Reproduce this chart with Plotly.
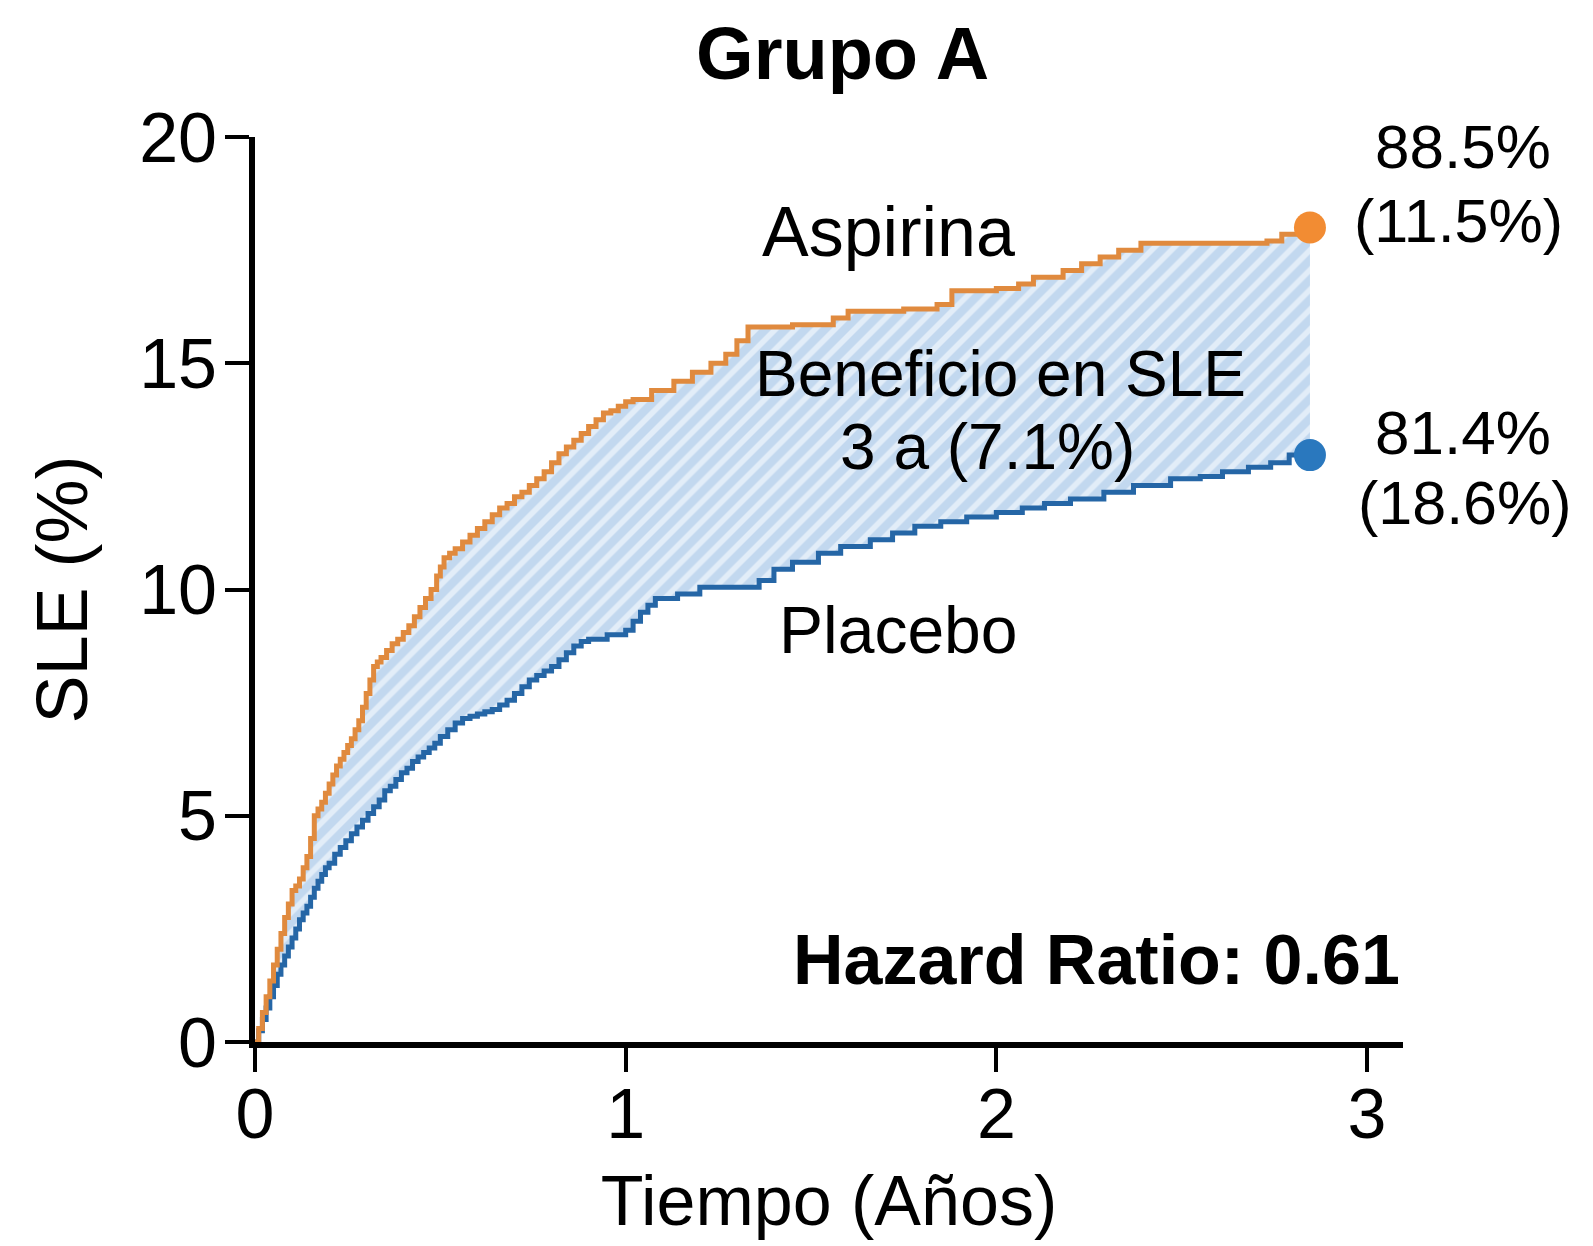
import plotly.graph_objects as go

# ---- data ----
aspirina_x = [0.00, 0.01, 0.02, 0.03, 0.04, 0.05, 0.06, 0.07, 0.08, 0.09,
              0.10, 0.11, 0.12, 0.13, 0.14, 0.15, 0.16, 0.17, 0.18, 0.19,
              0.20, 0.21, 0.22, 0.23, 0.24, 0.25, 0.26, 0.27, 0.28, 0.29,
              0.30, 0.31, 0.32, 0.33, 0.34, 0.355, 0.37, 0.385, 0.40, 0.415,
              0.43, 0.445, 0.46, 0.475, 0.49, 0.50, 0.51, 0.525, 0.54, 0.56,
              0.58, 0.60, 0.62, 0.64, 0.66, 0.68, 0.70, 0.72, 0.74, 0.76,
              0.78, 0.80, 0.82, 0.84, 0.86, 0.88, 0.90, 0.92, 0.94, 0.96,
              0.98, 1.00, 1.02, 1.07, 1.13, 1.18, 1.23, 1.27, 1.30, 1.33,
              1.45, 1.56, 1.60, 1.75, 1.84, 1.88, 2.00, 2.06, 2.10, 2.18,
              2.23, 2.28, 2.33, 2.39, 2.73, 2.77, 2.846]
aspirina_y = [0.0, 0.3, 0.65, 1.0, 1.35, 1.7, 2.05, 2.4, 2.75, 3.05,
              3.35, 3.45, 3.6, 3.85, 4.1, 4.5, 5.0, 5.15, 5.3, 5.5,
              5.7, 5.9, 6.1, 6.25, 6.4, 6.55, 6.7, 6.9, 7.1, 7.4,
              7.7, 8.0, 8.3, 8.4, 8.5, 8.65, 8.8, 8.9, 9.05, 9.2,
              9.4, 9.6, 9.8, 10.0, 10.3, 10.5, 10.7, 10.8, 10.9, 11.05,
              11.2, 11.35, 11.5, 11.65, 11.8, 11.9, 12.05, 12.15, 12.3, 12.45,
              12.6, 12.8, 13.0, 13.15, 13.3, 13.45, 13.6, 13.75, 13.9, 13.95,
              14.05, 14.15, 14.2, 14.4, 14.6, 14.8, 15.0, 15.2, 15.5, 15.8,
              15.85, 16.0, 16.15, 16.2, 16.3, 16.6, 16.65, 16.75, 16.9, 17.05,
              17.2, 17.35, 17.5, 17.65, 17.7, 17.85, 18.0]

placebo_x = [0.00, 0.01, 0.02, 0.03, 0.04, 0.05, 0.06, 0.07, 0.08, 0.09,
             0.10, 0.11, 0.12, 0.13, 0.14, 0.15, 0.16, 0.17, 0.18, 0.19,
             0.20, 0.215, 0.23, 0.245, 0.26, 0.275, 0.29, 0.305, 0.32, 0.335,
             0.35, 0.365, 0.38, 0.395, 0.41, 0.425, 0.44, 0.455, 0.47, 0.485,
             0.50, 0.52, 0.54, 0.56, 0.58, 0.60, 0.62, 0.64, 0.66, 0.68,
             0.70, 0.72, 0.74, 0.76, 0.78, 0.80, 0.82, 0.84, 0.86, 0.88,
             0.90, 0.95, 1.00, 1.02, 1.04, 1.06, 1.08, 1.14, 1.20, 1.36,
             1.40, 1.45, 1.52, 1.58, 1.66, 1.72, 1.78, 1.85, 1.92, 2.00,
             2.07, 2.13, 2.20, 2.29, 2.37, 2.47, 2.55, 2.61, 2.68, 2.74,
             2.79, 2.846]
placebo_y = [0.0, 0.25, 0.5, 0.75, 1.0, 1.25, 1.5, 1.7, 1.9, 2.1,
             2.3, 2.5, 2.7, 2.85, 3.0, 3.2, 3.4, 3.55, 3.7, 3.85,
             3.95, 4.15, 4.3, 4.45, 4.6, 4.75, 4.9, 5.05, 5.2, 5.35,
             5.55, 5.65, 5.8, 5.95, 6.05, 6.2, 6.3, 6.4, 6.5, 6.6,
             6.75, 6.9, 7.05, 7.15, 7.2, 7.25, 7.3, 7.35, 7.45, 7.55,
             7.7, 7.85, 8.0, 8.1, 8.2, 8.3, 8.45, 8.6, 8.75, 8.85,
             8.9, 9.0, 9.1, 9.3, 9.5, 9.65, 9.8, 9.9, 10.05, 10.2,
             10.45, 10.6, 10.8, 10.95, 11.1, 11.25, 11.4, 11.5, 11.6, 11.7,
             11.8, 11.9, 12.0, 12.15, 12.3, 12.45, 12.5, 12.6, 12.7, 12.8,
             12.97, 12.97]

x_ticks = [0, 1, 2, 3]
y_ticks = [0, 5, 10, 15, 20]

title_text = "Grupo A"
x_title = "Tiempo (Años)"
y_title = "SLE (%)"
label_aspirina = "Aspirina"
label_placebo = "Placebo"
label_benefit_1 = "Beneficio en SLE"
label_benefit_2 = "3 a (7.1%)"
label_hr = "Hazard Ratio: 0.61"
end_aspirina = ["88.5%", "(11.5%)"]
end_placebo = ["81.4%", "(18.6%)"]

FONT = "Liberation Sans, Arial, Helvetica, sans-serif"
ORANGE_LINE = "#E08A3E"
ORANGE_MARK = "#F28C33"
BLUE_LINE = "#2566A6"
BLUE_MARK = "#2A78BE"

fig = go.Figure()

fig.add_trace(go.Scatter(
    x=placebo_x, y=placebo_y, mode="lines", line=dict(color=BLUE_LINE, width=5, shape="hv"),
    name=label_placebo, showlegend=False, hoverinfo="skip"))

fig.add_trace(go.Scatter(
    x=aspirina_x, y=aspirina_y, mode="lines", line=dict(color=ORANGE_LINE, width=5, shape="hv"),
    fill="tonexty", fillcolor="#c4daef",
    fillpattern=dict(shape="/", fgcolor="#e2edf8", bgcolor="#c2d8ef", size=14, solidity=0.4,
                     fillmode="replace"),
    name=label_aspirina, showlegend=False, hoverinfo="skip"))

fig.add_trace(go.Scatter(
    x=[aspirina_x[-1]], y=[aspirina_y[-1]], mode="markers",
    marker=dict(color=ORANGE_MARK, size=32), showlegend=False, cliponaxis=False))
fig.add_trace(go.Scatter(
    x=[placebo_x[-1]], y=[placebo_y[-1]], mode="markers",
    marker=dict(color=BLUE_MARK, size=32), showlegend=False, cliponaxis=False))

ann = []
def add(text, x, y, size, bold=False, xref="x", yref="y", xanchor="center"):
    ann.append(dict(text=("<b>%s</b>" % text) if bold else text, x=x, y=y, xref=xref, yref=yref,
                    xanchor=xanchor, yanchor="middle", showarrow=False,
                    font=dict(family=FONT, size=size, color="black")))

add(label_aspirina, 1.71, 17.9, 70)
add(label_benefit_1, 2.01, 14.76, 64)
add(label_benefit_2, 1.975, 13.15, 64)
add(label_placebo, 1.735, 9.1, 66)
add(label_hr, 3.094, 1.81, 70, bold=True, xanchor="right")
add(end_aspirina[0], 1.052, 0.990, 62, xref="paper", yref="paper")
add(end_aspirina[1], 1.048, 0.907, 61, xref="paper", yref="paper")
add(end_placebo[0], 1.052, 0.673, 62, xref="paper", yref="paper")
add(end_placebo[1], 1.054, 0.596, 61, xref="paper", yref="paper")

fig.update_layout(
    width=1593, height=1246,
    margin=dict(l=255, r=190, t=137, b=204),
    paper_bgcolor="white", plot_bgcolor="white",
    font=dict(family=FONT, color="black"),
    title=dict(text="<b>%s</b>" % title_text, x=0.529, xanchor="center",
               y=1 - 53 / 1246, yanchor="middle", font=dict(family=FONT, size=74, color="black")),
    annotations=ann,
    showlegend=False,
)

fig.update_xaxes(
    range=[0, 3.097], tickvals=x_ticks, ticktext=[str(v) for v in x_ticks],
    showline=True, linecolor="black", linewidth=6, ticks="outside", ticklen=24, tickwidth=4,
    tickcolor="black", showgrid=False, zeroline=False, tickfont=dict(family=FONT, size=70),
    ticklabelstandoff=-18,
    title=dict(text=x_title, font=dict(family=FONT, size=70), standoff=26), automargin=False)

fig.update_yaxes(
    range=[0, 20], tickvals=y_ticks, ticktext=[str(v) for v in y_ticks],
    showline=True, linecolor="black", linewidth=6, ticks="outside", ticklen=24, tickwidth=4,
    tickcolor="black", showgrid=False, zeroline=False, tickfont=dict(family=FONT, size=70),
    ticklabelstandoff=-6,
    title=dict(text=y_title, font=dict(family=FONT, size=72), standoff=30), automargin=False)

fig.write_html("out.html")
